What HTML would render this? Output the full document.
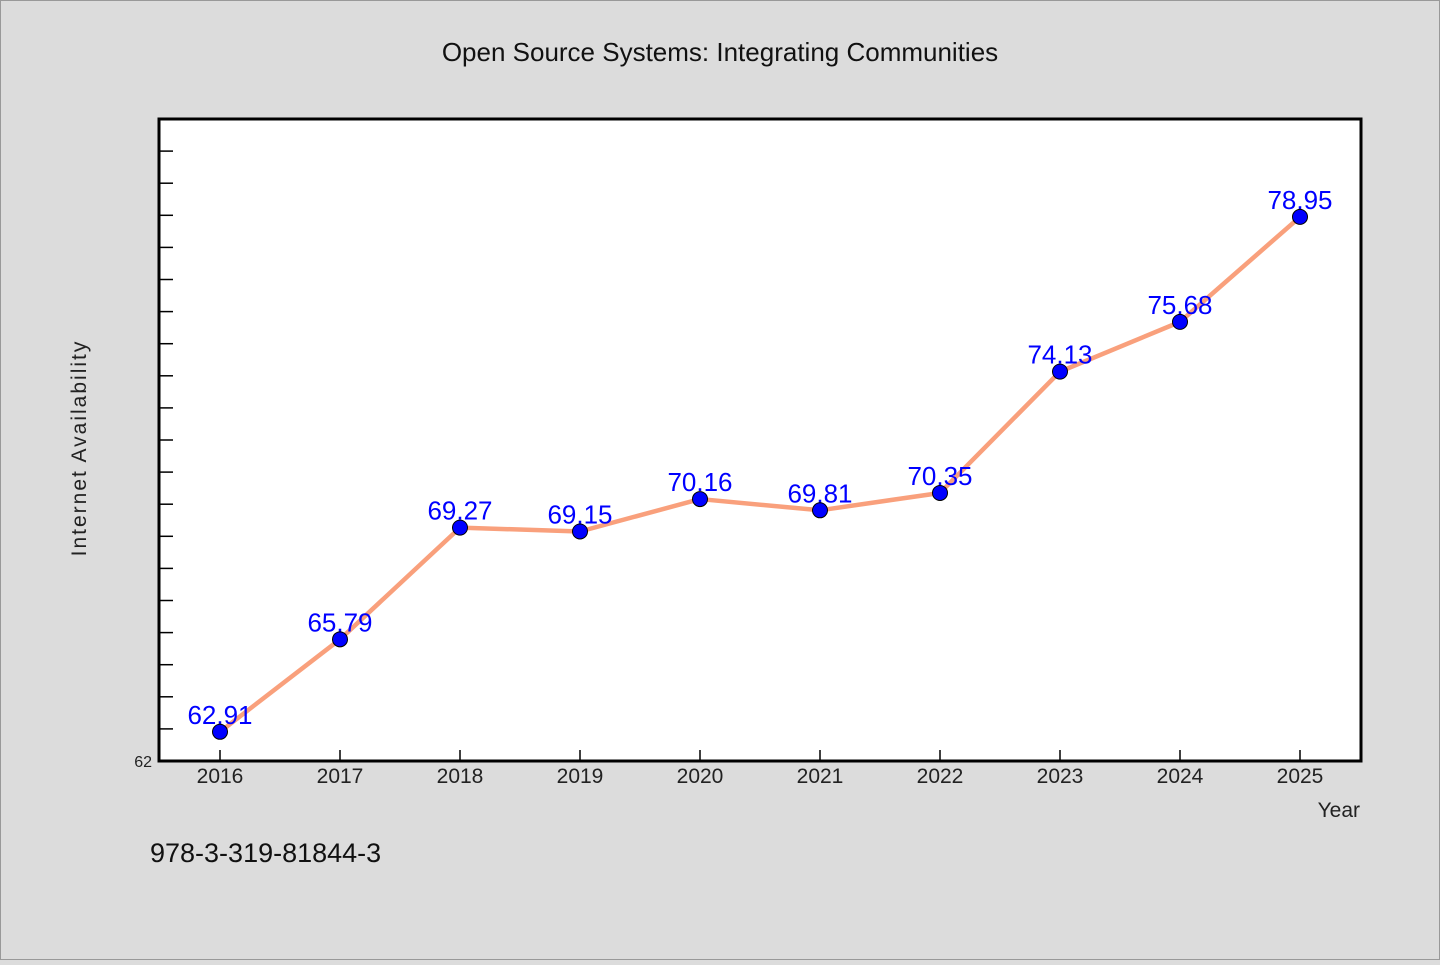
<!DOCTYPE html>
<html><head><meta charset="utf-8"><style>
body{margin:0;background:#dcdcdc;}
svg text{font-family:"WenQuanYi Zen Hei","Liberation Sans",sans-serif;}
</style></head><body>
<svg width="1440" height="960" xmlns="http://www.w3.org/2000/svg">
<rect x="0.5" y="0.5" width="1439" height="959" fill="#dcdcdc" stroke="#999"/>
<text x="720" y="61" text-anchor="middle" font-size="26" fill="#111">Open Source Systems: Integrating Communities</text>
<rect x="159" y="119" width="1202" height="642" fill="#fff" stroke="#000" stroke-width="3"/>
<g id="ticks"></g>
<text x="86" y="448" transform="rotate(-90 86 448)" text-anchor="middle" font-size="21" fill="#222" letter-spacing="2">Internet Availability</text>
<text x="1360" y="817" text-anchor="end" font-size="21" fill="#222">Year</text>
<text x="150" y="862" font-size="27" fill="#111">978-3-319-81844-3</text>
<g id="series"></g>
</svg>
<script>
const years=[2016,2017,2018,2019,2020,2021,2022,2023,2024,2025];
const values=[62.91,65.79,69.27,69.15,70.16,69.81,70.35,74.13,75.68,78.95];
const labels=["62.91","65.79","69.27","69.15","70.16","69.81","70.35","74.13","75.68","78.95"];
const yMin=62,yMax=82;
const NS="http://www.w3.org/2000/svg";
const L=160,R=1360,T=119,B=761;
const xs=v=>L+(v-2015.5)/10*(R-L);
const ys=v=>B-(v-yMin)/(yMax-yMin)*(B-T);
function mk(t,a,p){const e=document.createElementNS(NS,t);for(const k in a)e.setAttribute(k,a[k]);p.appendChild(e);return e;}
const tg=document.getElementById('ticks');
for(let v=yMin+1;v<yMax;v++){const l=mk('line',{x1:160,x2:173,y1:ys(v),y2:ys(v),stroke:'#000','stroke-width':1.5},tg);

}
const y0=mk('text',{x:152,y:767,'text-anchor':'end','font-size':16,fill:'#222'},tg);y0.textContent='62';


years.forEach(yr=>{const l=mk('line',{x1:xs(yr),x2:xs(yr),y1:750,y2:760,stroke:'#000','stroke-width':1.5},tg);


const t=mk('text',{x:xs(yr),y:783,'text-anchor':'middle','font-size':21,fill:'#222'},tg);t.textContent=yr;

});
const sg=document.getElementById('series');
const pl=mk('polyline',{points:years.map((y,i)=>xs(y)+','+ys(values[i])).join(' '),fill:'none',stroke:'#f9a07c','stroke-width':4.5,'stroke-linejoin':'round'},sg);


years.forEach((y,i)=>{const t=mk('text',{x:xs(y),y:ys(values[i])-8,'text-anchor':'middle','font-size':26,fill:'#0000ff'},sg);t.textContent=labels[i];


const c=mk('circle',{cx:xs(y),cy:ys(values[i]),r:7.5,fill:'#0000ff',stroke:'#000','stroke-width':1},sg);

});
</script>
</body></html>
